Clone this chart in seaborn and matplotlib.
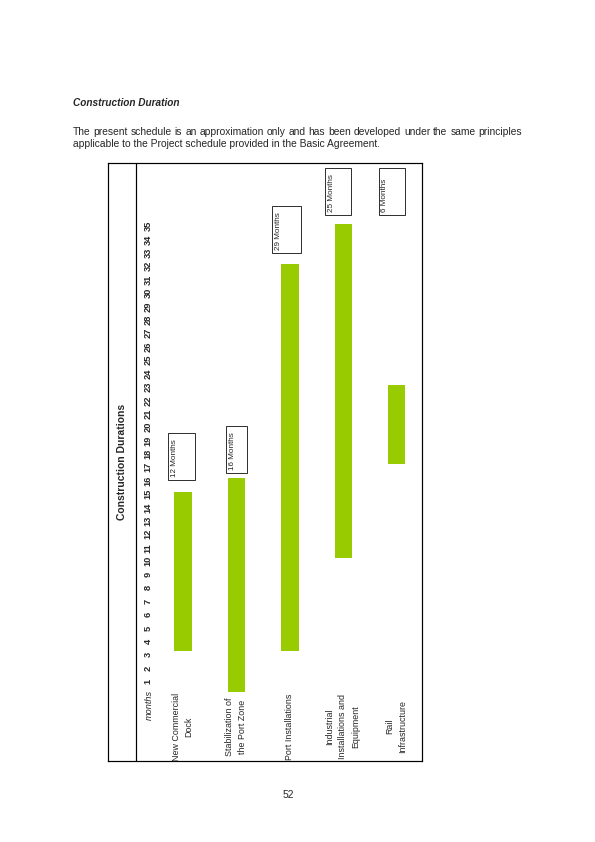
#!/usr/bin/env python3
# -*- coding: utf-8 -*-
"""
Construction Durations - rotated Gantt chart page
"""

import matplotlib
matplotlib.use("Agg")
import matplotlib.pyplot as plt
from matplotlib import font_manager
from matplotlib.patches import Rectangle
import pandas as pd
import seaborn as sns

# data
tasks = [
    "New Commercial\nDock",
    "Stabilization of\nthe Port Zone",
    "Port Installations",
    "Industrial\nInstallations and\nEquipment",
    "Rail\nInfrastructure",
]
start_month = [4, 1, 4, 11, 18]
duration = [12, 16, 29, 25, 6]
months = list(range(1, 36))
duration_text = [f"{d} Months" for d in duration]

heading = "Construction Duration"
body_1 = ("The present schedule is an approximation only and has been developed "
          "under the same principles")
body_2 = "applicable to the Project schedule provided in the Basic Agreement."
chart_title = "Construction Durations"
page_no = "52"

# layout of the label boxes (months / category units)
box_bottom = [15.8, 16.35, 32.75, 35.6, 35.6]
box_dx = [-0.27, -0.18, -0.32, -0.33, -0.33]
box_w = [0.50, 0.38, 0.54, 0.49, 0.49]
BOX_H = 3.47

GREEN = "#99cc00"

sns.set_theme(style="white")
names = {f.name for f in font_manager.fontManager.ttflist}
# narrow face if present, otherwise Arial metrics at a smaller size
if "Liberation Sans Narrow" in names:
    NARROW, K = "Liberation Sans Narrow", 1.0
else:
    NARROW, K = "Liberation Sans", 0.84
plt.rcParams["font.family"] = ["Liberation Sans", "DejaVu Sans"]

W, H = 595, 842
fig = plt.figure(figsize=(W / 72, H / 72), dpi=72)
fig.patch.set_facecolor("white")


def fx(px):
    return px / W


def fy(py):
    return 1 - py / H


# frame in page pixels
L, R, T, B = 108, 422, 162.7, 760.7
ax = fig.add_axes([fx(L), fy(B), (R - L) / W, (B - T) / H])

df = pd.DataFrame({"task": tasks, "duration": duration,
                   "start": [s - 1 for s in start_month]})
sns.barplot(data=df, x="task", y="duration", order=tasks,
            bottom=df["start"].values, color=GREEN, saturation=1,
            width=0.34, errorbar=None, ax=ax)

ax.set_xlim(-1.395, 4.48)
ax.set_ylim(-5.15, 39.48)
ax.set_xticks([])
ax.set_yticks([])
ax.set_xlabel("")
ax.set_ylabel("")
ax.set_facecolor("white")
for sp in ax.spines.values():
    sp.set_visible(True)
    sp.set_color("black")
    sp.set_linewidth(1.2)
ax.axvline(-0.871, color="black", lw=1.2)

# chart title in the left strip
ax.text(0.0446, 0.5, chart_title, transform=ax.transAxes, rotation=90,
        ha="center", va="center", fontsize=12.3 * K, fontweight="bold",
        family=NARROW)

# month scale
for m in months:
    ax.text(-0.646, m - 0.25, str(m), rotation=90, ha="center", va="center",
            fontsize=11 * K, fontweight="bold", family=NARROW)
ax.text(-0.62, -1.0, "months", rotation=90, ha="center", va="center",
        fontsize=10.8 * K, style="italic", family=NARROW)

# task names
for i, t in enumerate(tasks):
    ax.text(i, -2.6, t, rotation=90, ha="center", va="center",
            multialignment="center", fontsize=10.6 * K, linespacing=1.55,
            family=NARROW)

# duration boxes
for i, txt in enumerate(duration_text):
    x0 = i + box_dx[i]
    ax.add_patch(Rectangle((x0, box_bottom[i]), box_w[i], BOX_H, fill=False,
                           edgecolor="black", lw=0.8))
    ax.text(x0 + 0.05, box_bottom[i] + 0.2, txt, rotation=90, ha="left",
            va="bottom", fontsize=9.6 * K, family=NARROW)

# page text
fig.text(fx(73), fy(103.3), heading, ha="left", va="center", fontsize=10,
         fontweight="bold", style="italic")


def justified_line(text, x0, x1, y, **kw):
    words = text.split()
    renderer = fig.canvas.get_renderer()
    items = [fig.text(0, fy(y), w, ha="left", va="center", **kw) for w in words]
    widths = [t.get_window_extent(renderer).width for t in items]
    gap = (x1 - x0 - sum(widths)) / (len(words) - 1)
    x = x0
    for t, w in zip(items, widths):
        t.set_x(fx(x))
        x += w + gap


justified_line(body_1, 73, 522, 131.7, fontsize=10.2)
fig.text(fx(73), fy(144.3), body_2, ha="left", va="center", fontsize=10.2)
fig.text(fx(288), fy(795), page_no, ha="center", va="center", fontsize=10.2)

fig.savefig("out.png", dpi=72)
